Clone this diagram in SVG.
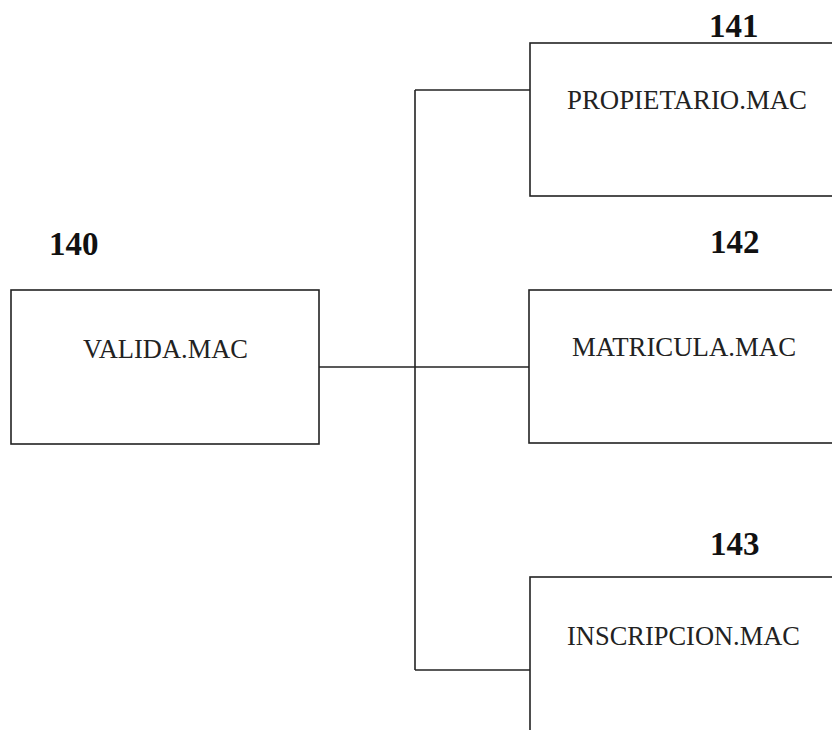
<svg xmlns="http://www.w3.org/2000/svg" width="832" height="730" viewBox="0 0 832 730">
<style>
.box{fill:#fff;stroke:#222;stroke-width:1.6}
.lbl{font-family:"Liberation Serif","Times New Roman",serif;font-size:26.5px;fill:#222}
.num{font-family:"Liberation Serif","Times New Roman",serif;font-size:33px;font-weight:bold;fill:#111}
.con{fill:none;stroke:#222;stroke-width:1.6}
</style>
<rect width="832" height="730" fill="#fff"/>
<g id="connectors">
<path class="con" d="M319 367 H530"/>
<path class="con" d="M415 90 V670"/>
<path class="con" d="M415 90 H530"/>
<path class="con" d="M415 670 H530"/>
</g>
<g id="n140">
<text class="num" x="49" y="255">140</text>
<rect class="box" x="11" y="290" width="308" height="154"/>
<text class="lbl" x="83" y="358" textLength="165" lengthAdjust="spacingAndGlyphs">VALIDA.MAC</text>
</g>
<g id="n141">
<text class="num" x="709" y="37">141</text>
<rect class="box" x="530" y="43" width="320" height="153"/>
<text class="lbl" x="567" y="109" textLength="240" lengthAdjust="spacingAndGlyphs">PROPIETARIO.MAC</text>
</g>
<g id="n142">
<text class="num" x="710" y="253">142</text>
<rect class="box" x="529" y="290" width="320" height="153"/>
<text class="lbl" x="572" y="356" textLength="224" lengthAdjust="spacingAndGlyphs">MATRICULA.MAC</text>
</g>
<g id="n143">
<text class="num" x="710" y="555">143</text>
<rect class="box" x="530" y="577" width="320" height="180"/>
<text class="lbl" x="567" y="645" textLength="233" lengthAdjust="spacingAndGlyphs">INSCRIPCION.MAC</text>
</g>
</svg>
